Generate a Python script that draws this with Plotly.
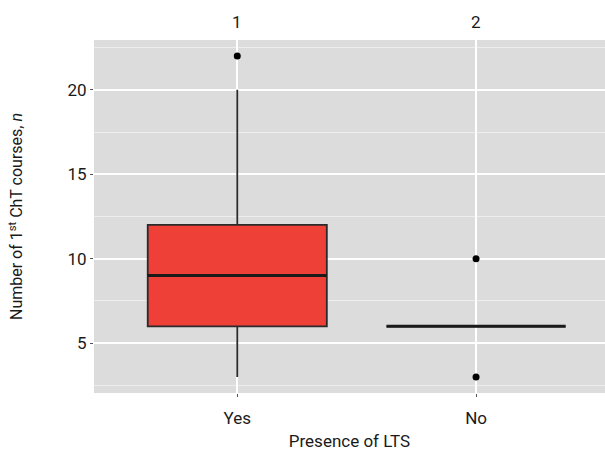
import plotly.graph_objects as go

# Summary statistics per group (number of first-line ChT courses)
groups = ["Yes", "No"]
group_pos = [1, 2]
top_labels = ["1", "2"]
q1 = [6, 6]
median = [9, 6]
q3 = [12, 6]
lower_fence = [3, 6]
upper_fence = [20, 6]
outlier_x = [1, 2, 2]
outlier_y = [22, 10, 3]

FONT = "Roboto, DejaVu Sans, sans-serif"
FSIZE = 17
TXT = "#1a1a1a"
BOX_W = 0.75
fill_colors = ["#EE4036", "rgba(0,0,0,0)"]

fig = go.Figure()

for i, g in enumerate(groups):
    fig.add_trace(go.Box(
        x=[group_pos[i]], q1=[q1[i]], median=[median[i]], q3=[q3[i]],
        lowerfence=[lower_fence[i]], upperfence=[upper_fence[i]],
        width=BOX_W, whiskerwidth=0, fillcolor=fill_colors[i],
        line=dict(color="#2a2a2a", width=1.8),
        boxpoints=False, name=g, showlegend=False, hoverinfo="skip",
    ))
    # thicker median bar, as in ggplot
    fig.add_trace(go.Scatter(
        x=[group_pos[i] - BOX_W / 2, group_pos[i] + BOX_W / 2],
        y=[median[i], median[i]], mode="lines",
        line=dict(color="#1a1a1a", width=3), showlegend=False, hoverinfo="skip",
    ))

fig.add_trace(go.Scatter(
    x=outlier_x, y=outlier_y, mode="markers",
    marker=dict(color="black", size=7), showlegend=False, hoverinfo="skip",
))

for pos, lab in zip(group_pos, top_labels):
    fig.add_annotation(x=pos, y=1, xref="x", yref="paper", text=lab,
                       showarrow=False, yanchor="bottom", yshift=6,
                       font=dict(family=FONT, size=FSIZE, color=TXT))

fig.update_layout(
    width=605, height=451,
    margin=dict(l=94, r=0, t=40, b=58),
    paper_bgcolor="white", plot_bgcolor="#DCDCDC",
    font=dict(family=FONT, size=FSIZE, color=TXT),
    xaxis=dict(
        range=[0.4, 2.54], tickvals=group_pos, ticktext=groups,
        showgrid=True, gridcolor="white", gridwidth=1.6, zeroline=False,
        ticks="outside", ticklen=3, tickcolor="#555555", tickwidth=1,
        ticklabelstandoff=7,
        title=dict(text="Presence of LTS", standoff=8,
                   font=dict(family=FONT, size=FSIZE, color=TXT)),
        tickfont=dict(family=FONT, size=FSIZE, color=TXT),
    ),
    yaxis=dict(
        range=[2.05, 22.95], tickvals=[5, 10, 15, 20],
        showgrid=True, gridcolor="white", gridwidth=1.6, zeroline=False,
        ticks="outside", ticklen=3, tickcolor="#555555", tickwidth=1,
        minor=dict(tickvals=[2.5, 7.5, 12.5, 17.5, 22.5], showgrid=True,
                   gridcolor="#EEEEEE", gridwidth=1, ticks=""),
        title=dict(text="Number of 1<sup>st</sup> ChT courses, <i>n</i>",
                   standoff=40, font=dict(family=FONT, size=16, color=TXT)),
        tickfont=dict(family=FONT, size=FSIZE, color=TXT),
    ),
)

fig.write_html("out.html")
